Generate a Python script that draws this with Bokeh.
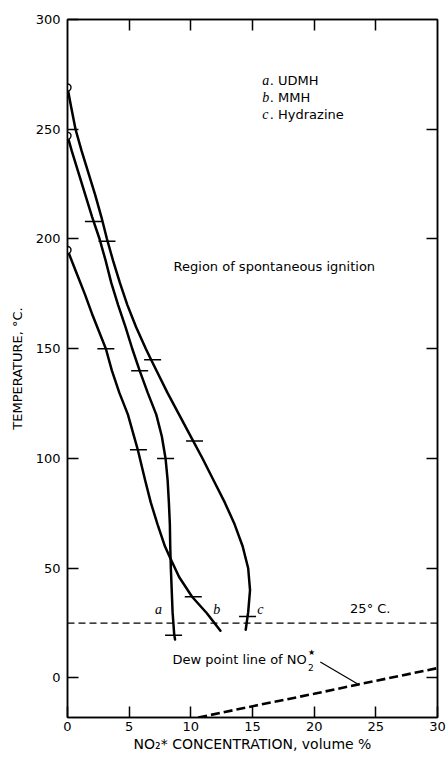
from bokeh.plotting import figure
from bokeh.models import Range1d, LinearAxis, FixedTicker, Label, Span
from bokeh.embed import file_html
from bokeh.resources import INLINE

# ---- data ----
x_ticks = [0, 5, 10, 15, 20, 25, 30]
y_ticks = [0, 50, 100, 150, 200, 250, 300]

# a. UDMH
udmh_x = [0, 0.35, 0.9, 1.45, 2.0, 2.6, 3.1, 3.55, 4.1, 4.7, 5.25, 5.85, 6.5, 7.2, 7.65,
          7.95, 8.12, 8.22, 8.3, 8.33, 8.38, 8.45, 8.52, 8.65, 8.72]
udmh_t = [247, 240, 230, 220, 210, 200, 190, 180, 170, 160, 150, 140, 130, 120, 110,
          100, 90, 80, 70, 60, 50, 40, 30, 20, 17.5]
udmh_pts_x = [2.1, 5.85, 7.95, 8.6]
udmh_pts_t = [208, 140, 100, 19.5]

# b. MMH
mmh_x = [0, 0.7, 1.4, 2.05, 3.11, 3.6, 4.2, 4.9, 5.4, 5.7, 6.3, 6.75, 7.3, 7.9, 8.3,
         9.05, 10.1, 11.3, 12.4]
mmh_t = [195, 185, 175, 165, 150, 140, 130, 120, 110, 104, 90, 80, 70, 60, 55,
         46, 37, 29.5, 21.5]
mmh_pts_x = [3.11, 5.75, 10.2]
mmh_pts_t = [150, 104, 37]

# c. Hydrazine
hyd_x = [0, 0.3, 0.65, 1.15, 1.7, 2.25, 2.75, 3.2, 3.7, 4.25, 4.85, 5.55, 6.35, 6.78, 7.22,
         8.1, 9.05, 10.0, 10.95, 11.85, 12.75, 13.55, 14.2, 14.65, 14.8, 14.65, 14.45]
hyd_t = [269, 260, 250, 240, 230, 220, 210, 200, 190, 180, 170, 160, 150, 145, 140,
         130, 120, 110, 100, 90, 80, 70, 60, 50, 40, 30, 22]
hyd_pts_x = [3.2, 6.9, 10.3, 14.6]
hyd_pts_t = [199, 145, 108, 28]

# dew point line of NO2*
dew_x = [10.6, 15.4, 20.0, 23.6, 30.0]
dew_t = [-18, -12.4, -7.2, -2.9, 4.5]
leader_x = [20.5, 23.5]
leader_t = [7.3, -2.6]

room_temp = 25

FONT = "DejaVu Sans"
SERIF = "Liberation Serif"

p = figure(width=448, height=759, frame_width=370, frame_height=698,
           min_border_left=67, min_border_right=11, min_border_top=19, min_border_bottom=42,
           x_range=Range1d(0, 30), y_range=Range1d(-18, 300),
           output_backend="svg", toolbar_location=None,
           x_axis_location=None, y_axis_location=None)
p.xgrid.visible = False
p.ygrid.visible = False
p.outline_line_color = "black"
p.outline_line_width = 1.5
p.background_fill_color = "white"
p.border_fill_color = "white"


def style_axis(ax):
    ax.major_tick_in = 11
    ax.major_tick_out = 0
    ax.minor_tick_line_color = None
    ax.axis_line_width = 1.5
    ax.major_tick_line_width = 1.5
    ax.major_label_text_font = FONT
    ax.major_label_text_font_size = "13px"
    ax.major_label_text_color = "black"
    ax.axis_label_text_font = FONT
    ax.axis_label_text_font_style = "normal"
    ax.axis_label_text_color = "black"


bottom = LinearAxis(ticker=FixedTicker(ticks=x_ticks))
style_axis(bottom)
bottom.major_label_standoff = 4
bottom.axis_label = "NO₂* CONCENTRATION, volume %"
bottom.axis_label_text_font_size = "14px"
bottom.axis_label_standoff = 2
p.add_layout(bottom, "below")

left = LinearAxis(ticker=FixedTicker(ticks=y_ticks))
style_axis(left)
left.major_label_standoff = 7
left.axis_label = "TEMPERATURE, °C."
left.axis_label_text_font_size = "13px"
left.axis_label_standoff = 8
p.add_layout(left, "left")

top = LinearAxis(ticker=FixedTicker(ticks=x_ticks[1:-1]))
style_axis(top)
top.major_label_overrides = {t: "" for t in x_ticks[1:-1]}
top.major_label_standoff = 0
p.add_layout(top, "above")

right = LinearAxis(ticker=FixedTicker(ticks=y_ticks[:-1]))
style_axis(right)
right.major_label_overrides = {t: "" for t in y_ticks[:-1]}
right.major_label_standoff = 0
p.add_layout(right, "right")

# 25 C line
p.add_layout(Span(location=room_temp, dimension="width", line_color="black",
                  line_width=1.3, line_dash="7 4"))

# curves
for xs, ts in [(udmh_x, udmh_t), (mmh_x, mmh_t), (hyd_x, hyd_t)]:
    p.line(xs, ts, line_color="black", line_width=2.5, line_join="round", line_cap="round")

for xs, ts in [(udmh_pts_x, udmh_pts_t), (mmh_pts_x, mmh_pts_t), (hyd_pts_x, hyd_pts_t)]:
    p.scatter(xs, ts, marker="dash", size=17, line_color="black", line_width=1.6)

p.scatter([udmh_x[0], mmh_x[0], hyd_x[0]], [udmh_t[0], mmh_t[0], hyd_t[0]],
          marker="circle", size=7, fill_color="white", line_color="black", line_width=1.4)

p.line(dew_x, dew_t, line_color="black", line_width=2.6, line_dash="9 4")
p.line(leader_x, leader_t, line_color="black", line_width=1.2)


def lab(x, y, text, size="13px", font=FONT, style="normal", align="left",
        baseline="middle"):
    p.add_layout(Label(x=x, y=y, text=text,
                       text_font=font, text_font_size=size,
                       text_font_style=style, text_align=align,
                       text_baseline=baseline, text_color="black"))


# legend
legend_rows = [("a", ". UDMH", 272), ("b", ". MMH", 264.3), ("c", ". Hydrazine", 256.5)]
for letter, name, t in legend_rows:
    lab(15.8, t, letter, size="14px", font=SERIF, style="italic")
    lab(16.4, t, name, size="13px")

lab(8.6, 187.6, "Region of spontaneous ignition", size="13px")

# curve letters
lab(7.37, 31.2, "a", size="14px", font=SERIF, style="italic", align="center")
lab(12.1, 31.2, "b", size="14px", font=SERIF, style="italic", align="center")
lab(15.64, 31.2, "c", size="14px", font=SERIF, style="italic", align="center")

lab(24.55, 31.8, "25° C.", size="13px", align="center")

# dew point annotation
lab(19.4, 8.4, "Dew point line of NO", size="13px", align="right")
lab(19.5, 11.6, "★", size="8px")
lab(19.5, 4.6, "2", size="9px")

open("out.html", "w").write(file_html(p, INLINE))
